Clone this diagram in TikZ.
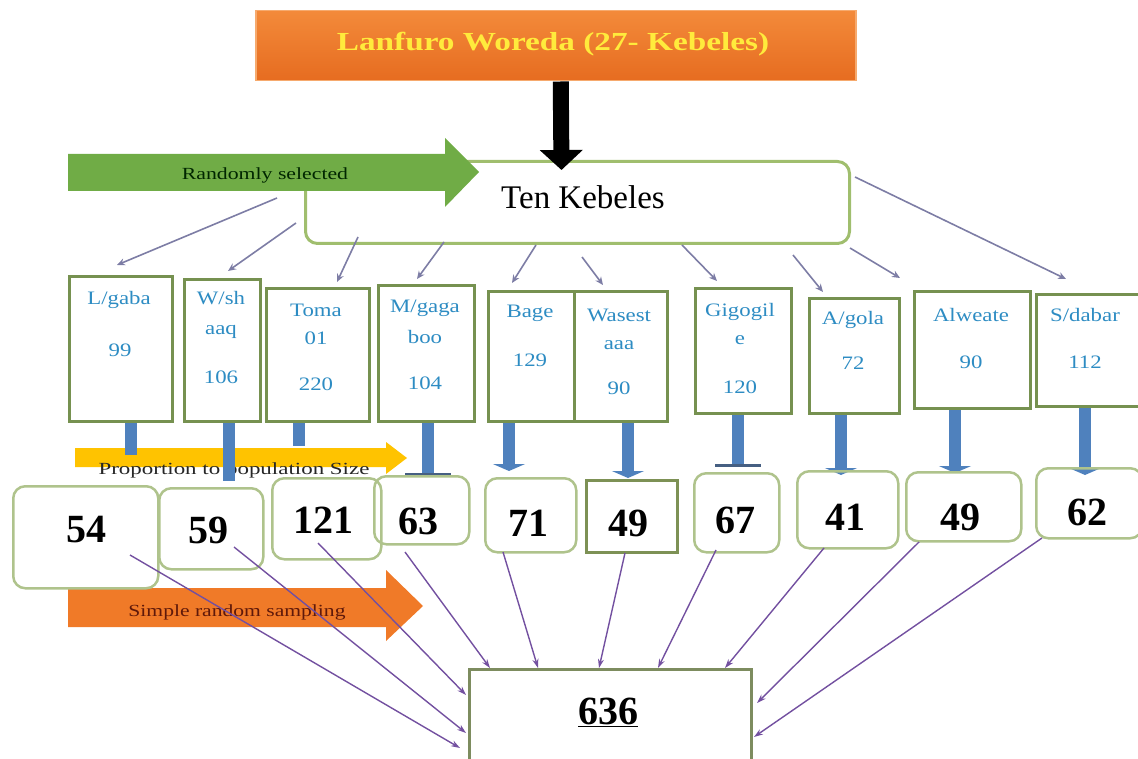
\documentclass[tikz,border=0pt]{standalone}
\usepackage{graphicx}
\usepackage{fontspec}
\setmainfont{Liberation Serif}
\usetikzlibrary{arrows.meta,calc}
\definecolor{ttl}{RGB}{255,235,60}
\definecolor{orA}{RGB}{243,138,58}
\definecolor{orB}{RGB}{230,108,32}
\definecolor{orline}{RGB}{246,170,110}
\definecolor{tkg}{RGB}{160,190,110}
\definecolor{kgreen}{RGB}{118,145,80}
\definecolor{kblue}{RGB}{45,140,195}
\definecolor{tkcol}{RGB}{125,125,165}
\definecolor{sblue}{RGB}{79,129,189}
\definecolor{barcol}{RGB}{70,95,130}
\definecolor{yel}{RGB}{255,195,0}
\definecolor{oarrow}{RGB}{240,122,40}
\definecolor{otext}{RGB}{95,25,10}
\definecolor{grn}{RGB}{112,172,70}
\definecolor{ngreen}{RGB}{175,195,140}
\definecolor{nsharp}{RGB}{125,145,85}
\definecolor{totc}{RGB}{125,140,95}
\definecolor{pcol}{RGB}{115,80,160}
\newcommand{\hsq}[2]{\scalebox{#1}[1]{#2}}
\begin{document}
\begin{tikzpicture}[x=1pt,y=-1pt,
  kbox/.style={draw=kgreen, line width=3pt, fill=white, inner sep=0pt, anchor=north west},
  nbox/.style={draw=ngreen, line width=2.5pt, rounded corners=12pt, inner sep=0pt, anchor=north west},
  ktext/.style={text=kblue, font=\fontsize{19}{21}\selectfont, inner sep=0pt},
  num/.style={font=\fontsize{40}{42}\selectfont\bfseries, inner sep=0pt},
  tkline/.style={draw=tkcol, line width=1.6pt, -{Stealth[length=8pt,width=7pt]}},
  pline/.style={draw=pcol, line width=1.4pt, -{Stealth[length=9pt,width=6pt]}},
  shaft/.style={draw=sblue, line width=12pt},
  shafttip/.style={shaft, -{Triangle[width=32pt,length=7pt,color=sblue]}},
  shaftbar/.style={shaft, -{Rectangle[width=46pt,length=3pt,color=barcol]}},
  lbl/.style={inner sep=0pt, font=\fontsize{17}{19}\selectfont}
]
\useasboundingbox (0,0) rectangle (1138,759);

% title
\node[anchor=north west, minimum width=600pt, minimum height=70pt, inner sep=0pt,
      draw=orline, line width=1.5pt, top color=orA, bottom color=orB] (title) at (255,10) {};
\node[font=\fontsize{26}{28}\selectfont\bfseries, text=ttl, inner sep=0pt] (titlet) at (553,44)
  {\hsq{1.28}{Lanfuro Woreda (27- Kebeles)}};

% ten kebeles
\node[anchor=north west, minimum width=544pt, minimum height=82pt, inner sep=0pt,
      draw=tkg, line width=3pt, rounded corners=12pt, fill=white] (tk) at (304,160) {};
\node[font=\fontsize{33}{35}\selectfont, inner sep=0pt] (tkt) at (583,197) {Ten Kebeles};

% black arrow
\draw[line width=16pt, -{Triangle[width=42pt,length=20pt]}]
  ([xshift=5pt]title.south) -- ([shift={(-16,10)}]tk.north);

% green arrow
\fill[grn] (68,154) -- (445,154) -- (445,138) -- (479,172) -- (445,207) -- (445,191) -- (68,191) -- cycle;
\node[lbl, text={black!85!green}] (rsel) at (265,175) {\hsq{1.28}{Randomly selected}};

% kebele boxes
\node[kbox, minimum width=103pt, minimum height=145pt] (k1) at (68,275) {};
\node[kbox, minimum width=76pt, minimum height=142pt] (k2) at (183,278) {};
\node[kbox, minimum width=103pt, minimum height=133pt] (k3) at (265,287) {};
\node[kbox, minimum width=96pt, minimum height=136pt] (k4) at (377,284) {};
\node[kbox, minimum width=86pt, minimum height=130pt] (k5) at (487,290) {};
\node[kbox, minimum width=93pt, minimum height=130pt] (k6) at (573,290) {};
\node[kbox, minimum width=96pt, minimum height=125pt] (k7) at (694,287) {};
\node[kbox, minimum width=90pt, minimum height=115pt] (k8) at (808,297) {};
\node[kbox, minimum width=116pt, minimum height=117pt] (k9) at (913,290) {};
\node[kbox, minimum width=104pt, minimum height=112pt] (k10) at (1035,293) {};

% kebele texts
\node[ktext] (k1a) at (119,300) {\hsq{1.2}{L/gaba}};
\node[ktext] (k1b) at (120,350) {\hsq{1.2}{99}};
\node[ktext] (k2a) at (221,298) {\hsq{1.2}{W/sh}};
\node[ktext] (k2b) at (221,332) {\hsq{1.2}{aaq}};
\node[ktext] (k2c) at (221,377) {\hsq{1.2}{106}};
\node[ktext] (k3a) at (316,310) {\hsq{1.2}{Toma}};
\node[ktext] (k3b) at (316,338) {\hsq{1.2}{01}};
\node[ktext] (k3c) at (316,384) {\hsq{1.2}{220}};
\node[ktext] (k4a) at (425,308) {\hsq{1.2}{M/gaga}};
\node[ktext] (k4b) at (425,337) {\hsq{1.2}{boo}};
\node[ktext] (k4c) at (425,383) {\hsq{1.2}{104}};
\node[ktext] (k5a) at (530,313) {\hsq{1.2}{Bage}};
\node[ktext] (k5b) at (530,360) {\hsq{1.2}{129}};
\node[ktext] (k6a) at (619,315) {\hsq{1.2}{Wasest}};
\node[ktext] (k6b) at (619,345) {\hsq{1.2}{aaa}};
\node[ktext] (k6c) at (619,388) {\hsq{1.2}{90}};
\node[ktext] (k7a) at (740,312) {\hsq{1.2}{Gigogil}};
\node[ktext] (k7b) at (740,340) {\hsq{1.2}{e}};
\node[ktext] (k7c) at (740,387) {\hsq{1.2}{120}};
\node[ktext] (k8a) at (853,320) {\hsq{1.2}{A/gola}};
\node[ktext] (k8b) at (853,363) {\hsq{1.2}{72}};
\node[ktext] (k9a) at (971,315) {\hsq{1.2}{Alweate}};
\node[ktext] (k9b) at (971,362) {\hsq{1.2}{90}};
\node[ktext] (k10a) at (1085,315) {\hsq{1.2}{S/dabar}};
\node[ktext] (k10b) at (1085,362) {\hsq{1.2}{112}};

% ten kebeles connectors
\draw[tkline] ([shift={(-27,38)}]tk.north west) -- ([shift={(49,-10)}]k1.north west);
\draw[tkline] ([shift={(-8,63)}]tk.north west) -- ([shift={(45,-7)}]k2.north west);
\draw[tkline] ([shift={(54,77)}]tk.north west) -- ([shift={(72,-5)}]k3.north west);
\draw[tkline] ([shift={(140,82)}]tk.north west) -- ([shift={(40,-5)}]k4.north west);
\draw[tkline] ([shift={(232,85)}]tk.north west) -- ([shift={(25,-7)}]k5.north west);
\draw[tkline] ([shift={(278,97)}]tk.north west) -- ([shift={(30,-5)}]k6.north west);
\draw[tkline] ([shift={(378,85)}]tk.north west) -- ([shift={(23,-6)}]k7.north west);
\draw[tkline] ([shift={(489,95)}]tk.north west) -- ([shift={(15,-5)}]k8.north west);
\draw[tkline] ([shift={(546,88)}]tk.north west) -- ([shift={(-13,-12)}]k9.north west);
\draw[tkline] ([shift={(551,17)}]tk.north west) -- ([shift={(31,-14)}]k10.north west);

% yellow arrow
\fill[yel] (75,448) -- (386,448) -- (386,442) -- (407,458) -- (386,474) -- (386,467) -- (75,467) -- cycle;
\node[lbl, text=black!85] (pps) at (234,470) {\hsq{1.35}{Proportion to population Size}};

% blue shafts
\draw[shaft] ([xshift=63pt]k1.south west) -- ++(0,32);
\draw[shaft] ([xshift=46pt]k2.south west) -- ++(0,58);
\draw[shaft] ([xshift=34pt]k3.south west) -- ++(0,23);
\draw[shaftbar] ([xshift=51pt]k4.south west) -- ++(0,53);
\draw[shafttip] ([xshift=22pt]k5.south west) -- ++(0,48);
\draw[shafttip] ([xshift=55pt]k6.south west) -- ++(0,55);
\draw[shaftbar] ([xshift=44pt]k7.south west) -- ++(0,52);
\draw[shafttip] ([xshift=33pt]k8.south west) -- ++(0,60);
\draw[shafttip] ([xshift=42pt]k9.south west) -- ++(0,63);
\draw[shafttip] ([xshift=50pt]k10.south west) -- ++(0,67);

% orange arrow
\fill[oarrow] (68,588) -- (386,588) -- (386,570) -- (423,606) -- (386,641) -- (386,627) -- (68,627) -- cycle;
\node[lbl, text=otext] (srs) at (237,612) {\hsq{1.27}{Simple random sampling}};

% number boxes
\node[nbox, minimum width=145pt, minimum height=102pt] (n1) at (12,485) {};
\node[nbox, minimum width=104pt, minimum height=81pt] (n2) at (158,487) {};
\node[nbox, minimum width=109pt, minimum height=81pt] (n3) at (271,477) {};
\node[nbox, minimum width=95pt, minimum height=68pt] (n4) at (373,475) {};
\node[nbox, minimum width=91pt, minimum height=74pt] (n5) at (484,477) {};
\node[nbox, draw=nsharp, rounded corners=0pt, minimum width=91pt, minimum height=72pt] (n6) at (585,479) {};
\node[nbox, minimum width=85pt, minimum height=79pt] (n7) at (693,472) {};
\node[nbox, minimum width=101pt, minimum height=77pt] (n8) at (796,470) {};
\node[nbox, minimum width=115pt, minimum height=69pt] (n9) at (905,471) {};
\node[nbox, minimum width=106pt, minimum height=70pt] (n10) at (1035,467) {};

\node[num] (n1t) at (86,530) {54};
\node[num] (n2t) at (208,530) {59};
\node[num] (n3t) at (323,520) {121};
\node[num] (n4t) at (418,521) {63};
\node[num] (n5t) at (528,523) {71};
\node[num] (n6t) at (628,523) {49};
\node[num] (n7t) at (735,520) {67};
\node[num] (n8t) at (845,517) {41};
\node[num] (n9t) at (960,517) {49};
\node[num] (n10t) at (1087,512) {62};

% total box
\node[anchor=north west, inner sep=0pt, draw=totc, line width=2.5pt, fill=white,
      minimum width=282pt, minimum height=95pt] (tot) at (468,668) {};
\node[num] (tott) at (608,712) {\underline{636}};

% purple connectors
\draw[pline] ([shift={(118,70)}]n1.north west) -- ([shift={(-8,80)}]tot.north west);
\draw[pline] ([shift={(76,60)}]n2.north west) -- ([shift={(-2,65)}]tot.north west);
\draw[pline] ([shift={(47,66)}]n3.north west) -- ([shift={(-2,27)}]tot.north west);
\draw[pline] ([shift={(32,77)}]n4.north west) -- ([shift={(22,0)}]tot.north west);
\draw[pline] ([shift={(19,75)}]n5.north west) -- ([shift={(70,0)}]tot.north west);
\draw[pline] ([shift={(40,74)}]n6.north west) -- ([shift={(131,0)}]tot.north west);
\draw[pline] ([shift={(23,78)}]n7.north west) -- ([shift={(190,0)}]tot.north west);
\draw[pline] ([shift={(28,78)}]n8.north west) -- ([shift={(257,0)}]tot.north west);
\draw[pline] ([shift={(14,71)}]n9.north west) -- ([shift={(289,35)}]tot.north west);
\draw[pline] ([shift={(7,71)}]n10.north west) -- ([shift={(286,69)}]tot.north west);
\end{tikzpicture}
\end{document}
